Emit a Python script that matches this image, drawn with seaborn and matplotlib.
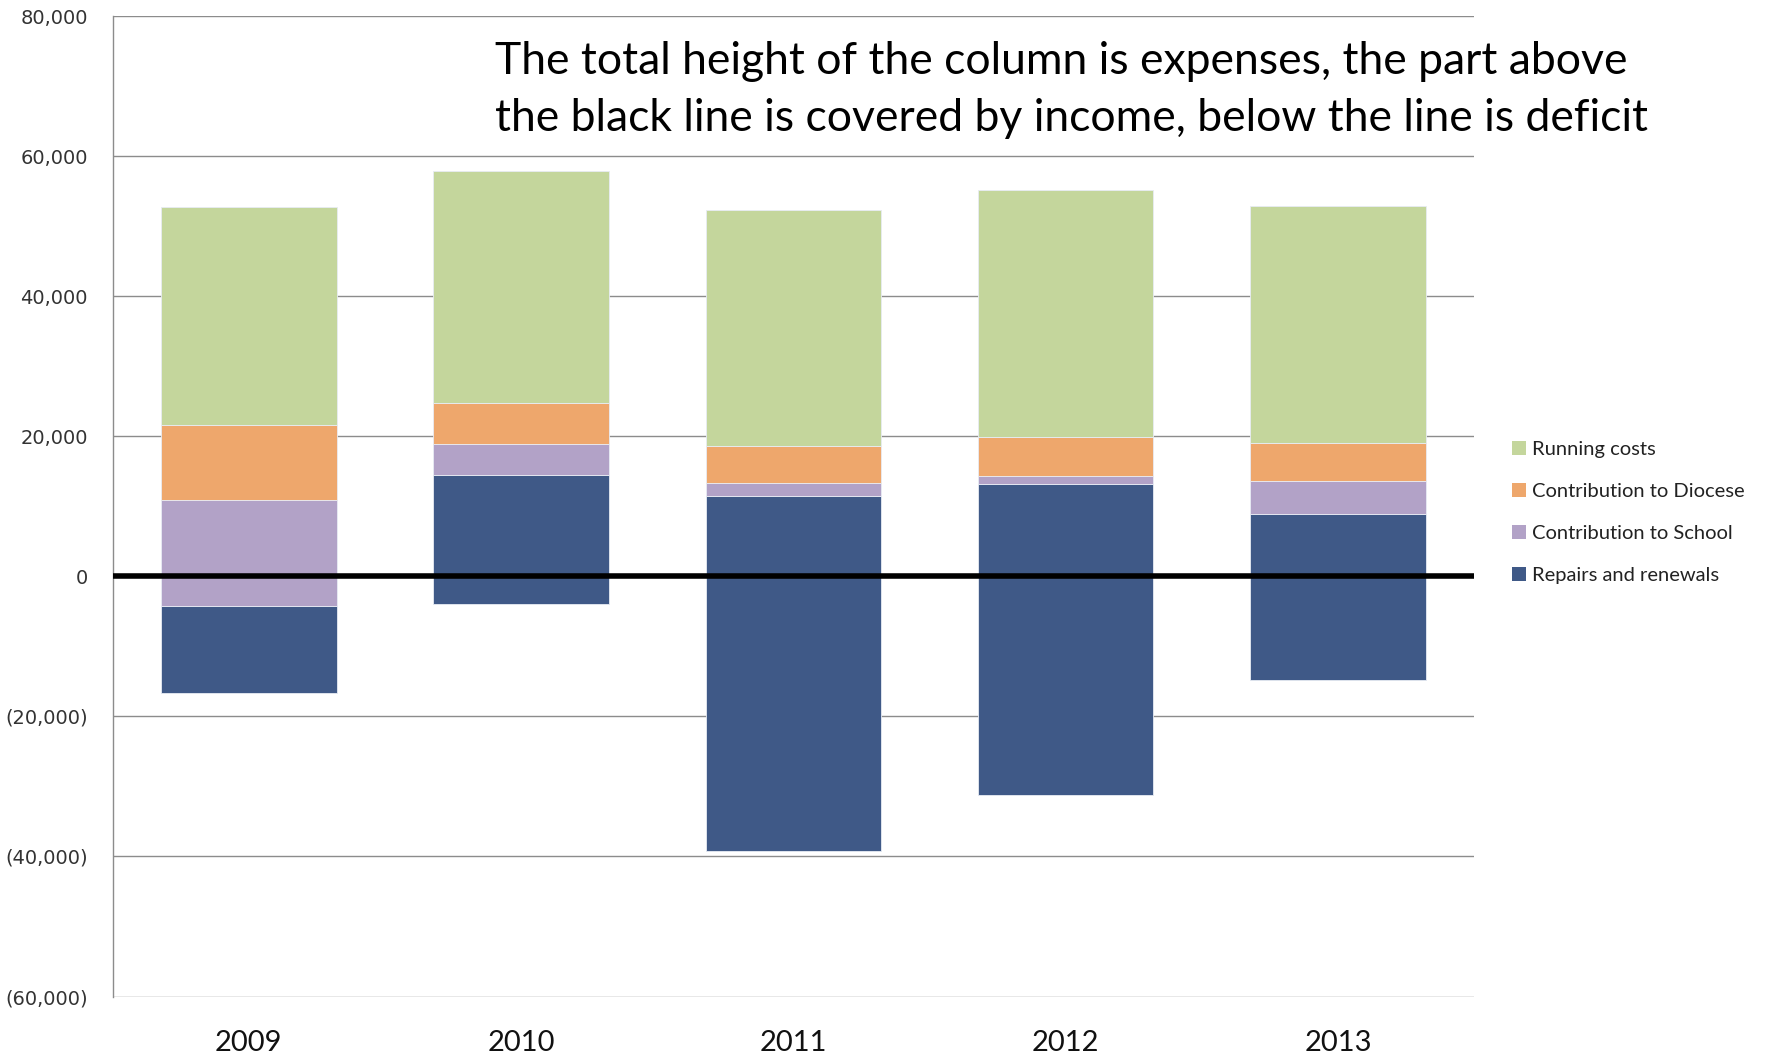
import numpy as np
import pandas as pd
import seaborn as sns
import matplotlib
matplotlib.use("Agg")
import matplotlib.pyplot as plt
from matplotlib.ticker import FuncFormatter, MultipleLocator
from matplotlib.patches import Patch

years = ["2009", "2010", "2011", "2012", "2013"]
deficit = [-16700, -4000, -39150, -31150, -14800]
repairs = [12450, 18520, 50690, 44330, 23680]
school = [15210, 4440, 1840, 1180, 4770]
diocese = [10620, 5780, 5240, 5570, 5350]
running = [31210, 33180, 33770, 35220, 33890]

series_names = ["Repairs and renewals", "Contribution to School",
                "Contribution to Diocese", "Running costs"]
series_values = [repairs, school, diocese, running]
colors = ["#3F5987", "#B2A2C7", "#EEA76C", "#C4D69C"]

annotation = ("The total height of the column is expenses, the part above\n"
              "the black line is covered by income, below the line is deficit")

sns.set_theme(style="white")
plt.rcParams["font.family"] = ["DejaVu Sans"]

fig = plt.figure(figsize=(17.66, 10.56), dpi=100)
ax = fig.add_axes([0.0638, 0.0563, 0.7709, 0.9284])

bottom = np.array(deficit, dtype=float)
for name, vals, col in zip(series_names, series_values, colors):
    vals = np.array(vals, dtype=float)
    df = pd.DataFrame({"year": years, "value": vals})
    sns.barplot(data=df, x="year", y="value", color=col, saturation=1,
                width=0.645, bottom=bottom, ax=ax, edgecolor="#E8ECF4",
                linewidth=0.6, zorder=2, errorbar=None)
    bottom = bottom + vals

ax.set_ylim(-60000, 80000)
ax.set_xlim(-0.5, 4.5)
ax.yaxis.set_major_locator(MultipleLocator(20000))
ax.yaxis.set_major_formatter(FuncFormatter(
    lambda v, p: f"({abs(v):,.0f})" if v < 0 else f"{v:,.0f}"))
ax.set_xlabel("")
ax.set_ylabel("")
ax.grid(axis="y", color="#8C8C8C", linewidth=1.0, zorder=0)
ax.set_axisbelow(True)
for s in ["top", "right", "bottom"]:
    ax.spines[s].set_visible(False)
ax.spines["left"].set_color("#8C8C8C")
ax.spines["left"].set_linewidth(1.0)
ax.tick_params(axis="y", length=0, labelsize=14, colors="#333333", pad=18)
ax.tick_params(axis="x", length=0, pad=24)
for lab in ax.get_xticklabels():
    lab.set_fontfamily("Lato")
    lab.set_fontsize(21)
    lab.set_color("#111111")

ax.axhline(0, color="black", linewidth=4, zorder=5)

ax.text(0.281, 0.975, annotation, transform=ax.transAxes, ha="left", va="top",
        fontsize=32, family="Lato", color="black", linespacing=1.5)

handles = [Patch(facecolor=c, edgecolor="none") for c in colors][::-1]
labels = series_names[::-1]
leg = fig.legend(handles, labels, loc="upper left",
                 bbox_to_anchor=(0.846, 0.600), frameon=False,
                 prop={"family": "Lato", "size": 14.5},
                 handlelength=0.7, handleheight=0.7, handletextpad=0.3,
                 labelspacing=1.25)
for t in leg.get_texts():
    t.set_color("#222222")

fig.savefig("out.png", dpi=100)
